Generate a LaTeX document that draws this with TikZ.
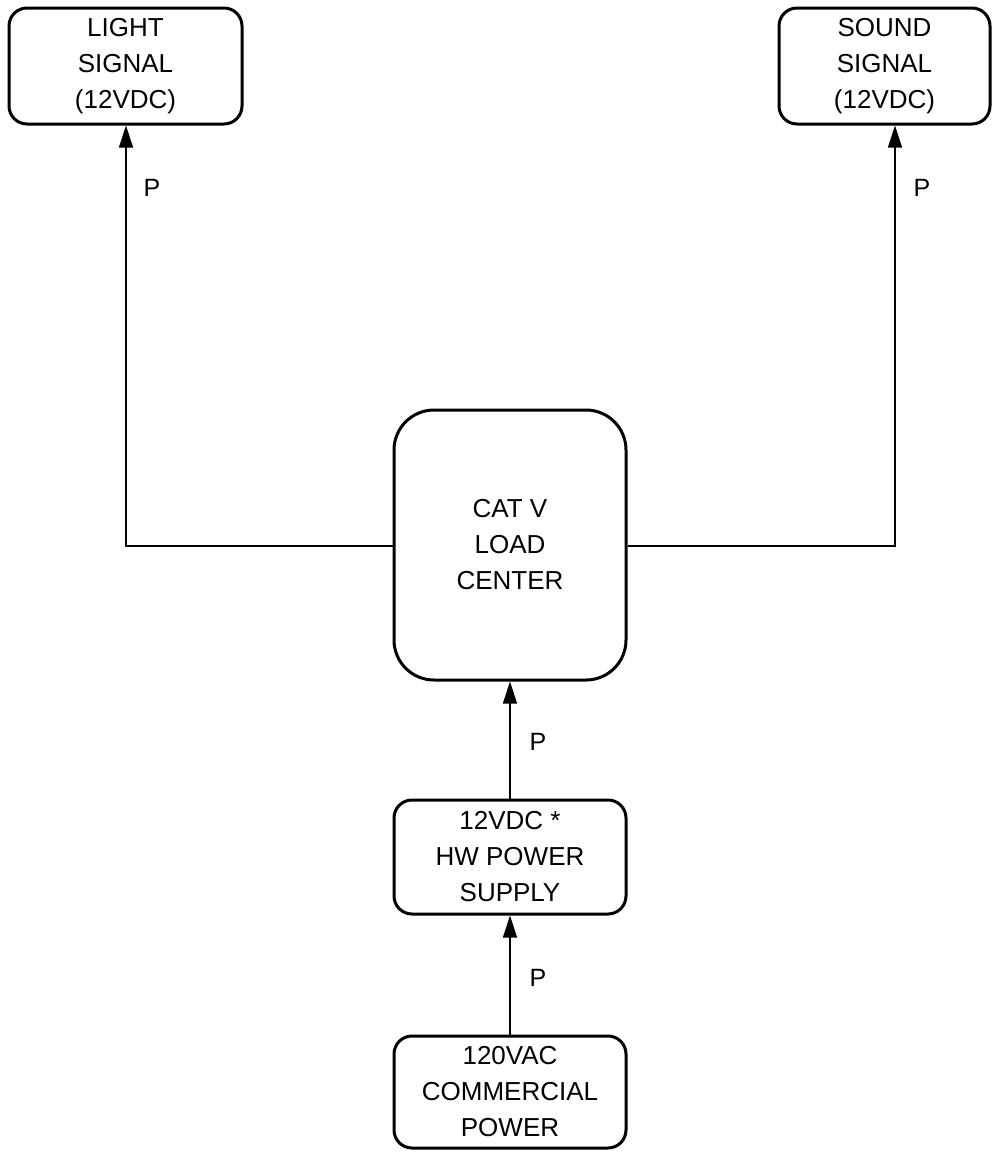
\documentclass[tikz,border=0pt]{standalone}
\usepackage{fontspec}
\setmainfont{Liberation Sans}
\usetikzlibrary{arrows.meta}
\begin{document}
\begin{tikzpicture}[x=1pt,y=-1pt,
  blk/.style={draw,line width=3pt,rounded corners=18pt,align=center,font=\fontsize{26}{36}\selectfont,inner sep=0pt},
  con/.style={line width=1.4pt},
  arr/.style={con,-{Triangle[length=22pt,width=14pt]}},
  lbl/.style={font=\fontsize{25}{30}\selectfont,anchor=center}]
\useasboundingbox (0,0) rectangle (1000,1152);
\node[blk,minimum width=233pt,minimum height=116pt] (light) at (125.5,66) {LIGHT\\SIGNAL\\(12VDC)};
\node[blk,minimum width=211pt,minimum height=116pt] (sound) at (884.5,66) {SOUND\\SIGNAL\\(12VDC)};
\node[blk,rounded corners=40pt,minimum width=232pt,minimum height=270pt] (cat) at (510,545) {CAT V\\LOAD\\CENTER};
\node[blk,minimum width=232pt,minimum height=114pt] (psu) at (510,857) {12VDC *\\HW POWER\\SUPPLY};
\node[blk,minimum width=232pt,minimum height=112pt] (ac) at (510,1092) {120VAC\\COMMERCIAL\\POWER};
\coordinate (lc) at (126,546);
\coordinate (rc) at (895,546);
\draw[arr] (cat.west |- lc) -- (lc) -- (lc |- light.south);
\draw[arr] (cat.east |- rc) -- (rc) -- (rc |- sound.south);
\draw[arr] (psu.north) -- (cat.south);
\draw[arr] (ac.north) -- (psu.south);
\node[lbl] (p1) at (152,188) {P};
\node[lbl] (p2) at (922,188) {P};
\node[lbl] (p3) at (538,742) {P};
\node[lbl] (p4) at (538,978) {P};
\end{tikzpicture}
\end{document}
